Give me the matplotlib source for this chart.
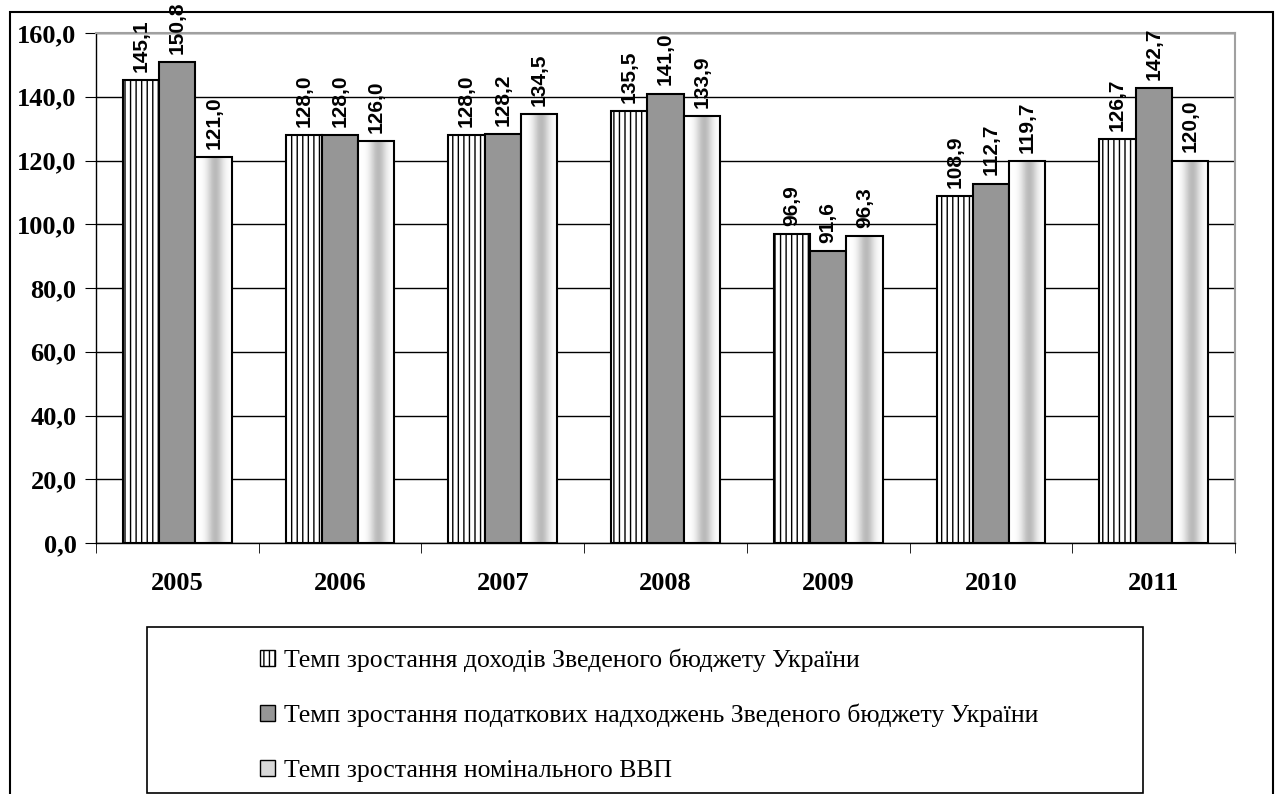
import numpy as np
import matplotlib
matplotlib.use('Agg')
import matplotlib.pyplot as plt
from matplotlib.patches import Rectangle, Patch
from matplotlib.ticker import FuncFormatter

years = ['2005', '2006', '2007', '2008', '2009', '2010', '2011']
revenue = [145.1, 128.0, 128.0, 135.5, 96.9, 108.9, 126.7]
tax = [150.8, 128.0, 128.2, 141.0, 91.6, 112.7, 142.7]
gdp = [121.0, 126.0, 134.5, 133.9, 96.3, 119.7, 120.0]
labels = ['Темп зростання доходів Зведеного бюджету України',
          'Темп зростання податкових надходжень Зведеного бюджету України',
          'Темп зростання номінального ВВП']

plt.rcParams['hatch.linewidth'] = 1.0

fig = plt.figure(figsize=(12.78, 7.94), dpi=100)
ax = fig.add_axes([96/1278, 1-543/794, (1235-96)/1278, (543-33)/794])

x = np.arange(len(years))
w = 0.223

# outer frame
fig.patches.append(Rectangle((10/1278, -0.02), (1273-10)/1278, 1.02-12/794,
                             transform=fig.transFigure, fill=False,
                             edgecolor='black', linewidth=1.5))

b1 = ax.bar(x - w, revenue, w, facecolor='white', edgecolor='black',
            hatch='|||', linewidth=1.5, zorder=3)
b2 = ax.bar(x, tax, w, facecolor='#969696', edgecolor='black',
            linewidth=1.5, zorder=3)
b3 = ax.bar(x + w, gdp, w, facecolor='none', edgecolor='black',
            linewidth=1.5, zorder=4)

# gradient fill for the GDP bars
t = np.linspace(0, 1, 64)
grad = 1 - 0.27 * np.exp(-((t - 0.55) / 0.22) ** 2)
grad = grad[np.newaxis, :]
for r in b3:
    ax.imshow(grad, extent=[r.get_x(), r.get_x() + r.get_width(), 0, r.get_height()],
              aspect='auto', cmap='gray', vmin=0, vmax=1, zorder=3,
              interpolation='bilinear')

ax.set_xlim(-0.5, len(years) - 0.5)
ax.set_ylim(0, 160)
ax.set_yticks(np.arange(0, 161, 20))
ax.yaxis.set_major_formatter(FuncFormatter(lambda v, p: f'{v:.1f}'.replace('.', ',')))
ax.yaxis.grid(True, color='black', linewidth=1)
ax.set_axisbelow(True)

ax.set_xticks(x)
ax.set_xticklabels(years)
ax.set_xticks(np.arange(-0.5, len(years)), minor=True)
ax.tick_params(axis='x', which='major', length=0, pad=21)
ax.tick_params(axis='x', which='minor', length=7, direction='out', color='black')
ax.tick_params(axis='y', length=8, direction='out', pad=6)

for lbl in ax.get_xticklabels() + ax.get_yticklabels():
    lbl.set_fontfamily('Liberation Serif')
    lbl.set_fontweight('bold')
    lbl.set_fontsize(19)

for s in ['left', 'bottom']:
    ax.spines[s].set_color('black')
    ax.spines[s].set_linewidth(1)
for s in ['top', 'right']:
    ax.spines[s].set_color('#a0a0a0')
    ax.spines[s].set_linewidth(1.5)

for bars in (b1, b2, b3):
    for r in bars:
        v = r.get_height()
        ax.annotate(f'{v:.1f}'.replace('.', ','),
                    (r.get_x() + r.get_width() / 2, v),
                    xytext=(0, 6), textcoords='offset points',
                    rotation=90, ha='center', va='bottom',
                    fontsize=15, fontweight='bold', family='Liberation Sans',
                    annotation_clip=False, zorder=5)

# legend
fig.patches.append(Rectangle((147/1278, 1-793/794), (1143-147)/1278, (793-627)/794,
                             transform=fig.transFigure, fill=False,
                             edgecolor='black', linewidth=1.2))
handles = [Patch(facecolor='white', edgecolor='black', hatch='|||'),
           Patch(facecolor='#969696', edgecolor='black'),
           Patch(facecolor='#d8d8d8', edgecolor='black')]
fig.legend(handles, labels, loc='center', bbox_to_anchor=(649/1278, 1-715/794),
           frameon=False, prop={'family': 'Liberation Serif', 'size': 18.5},
           handlelength=0.6, handleheight=0.6, handletextpad=0.35,
           labelspacing=1.25)

fig.savefig('out.png', dpi=100)
